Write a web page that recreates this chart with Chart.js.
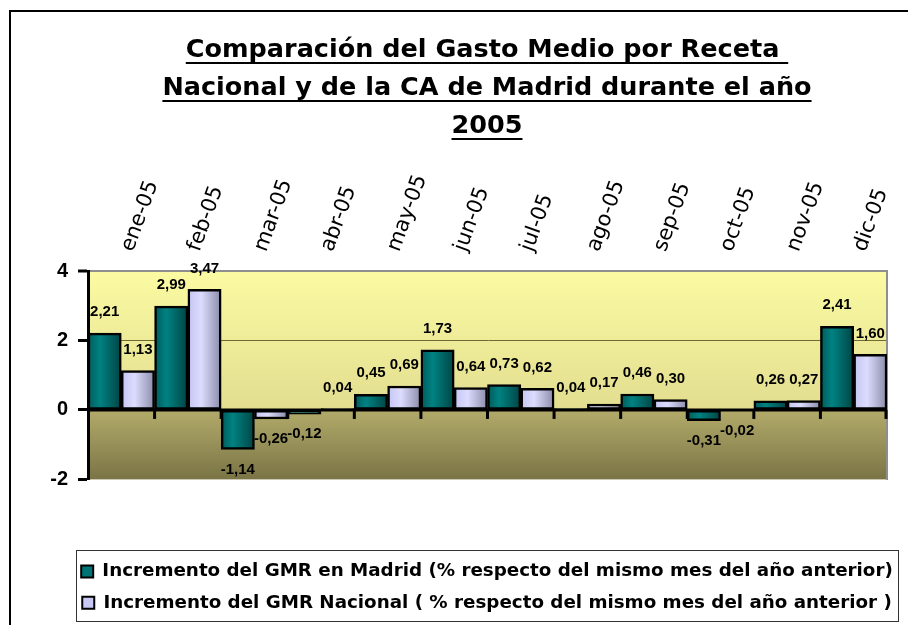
<!DOCTYPE html>
<html><head><meta charset="utf-8">
<script src="https://cdn.jsdelivr.net/npm/chart.js@4/dist/chart.umd.min.js"></script>
<style>html,body{margin:0;padding:0;background:#fff;overflow:hidden}canvas{display:block}</style>
</head><body>
<canvas id="c" width="908" height="625"></canvas>
<script>
const categories = ['ene-05','feb-05','mar-05','abr-05','may-05','jun-05','jul-05','ago-05','sep-05','oct-05','nov-05','dic-05'];
const madrid = [2.21, 2.99, -1.14, -0.12, 0.45, 1.73, 0.73, 0.04, 0.46, -0.31, 0.26, 2.41];
const nacional = [1.13, 3.47, -0.26, 0.04, 0.69, 0.64, 0.62, 0.17, 0.30, -0.02, 0.27, 1.60];
const yTicks = [-2, 0, 2, 4];
const titleLines = ['Comparación del Gasto Medio por Receta ', 'Nacional y de la CA de Madrid durante el año', '2005'];
const seriesNames = ['Incremento del GMR en Madrid (% respecto del mismo mes del año anterior)', 'Incremento del GMR Nacional ( % respecto del mismo mes del año anterior )'];

const solidColors = ['#007474', '#c8c8f4'];
const gradStops = [
  [[0, '#005a5a'], [0.35, '#008282'], [1, '#004444']],
  [[0, '#c4c4f2'], [0.4, '#dcdcff'], [1, '#8a8aa8']]
];

function barFill(di) {
  return (ctx) => {
    if (ctx.type !== 'data') return solidColors[di];
    const chart = ctx.chart, xs = chart.scales.x;
    if (!xs || !chart.chartArea) return solidColors[di];
    const c = xs.getPixelForValue(ctx.dataIndex);
    const half = xs.width / categories.length / 2;
    const x0 = di === 0 ? c - half : c;
    const g = chart.ctx.createLinearGradient(x0, 0, x0 + half, 0);
    gradStops[di].forEach(([o, col]) => g.addColorStop(o, col));
    return g;
  };
}

const TITLE_FONT = {family: 'DejaVu Sans', size: 25.5, weight: 'bold', lineHeight: '38px'};
const TITLE_PAD = {top: 19, bottom: 14};

const decorPlugin = {
  id: 'decor',
  beforeDraw(chart) {
    const ctx = chart.ctx, a = chart.chartArea, ys = chart.scales.y;
    ctx.save();
    ctx.strokeStyle = '#000'; ctx.lineWidth = 2;
    ctx.beginPath(); ctx.moveTo(10, chart.height + 2); ctx.lineTo(10, 11); ctx.lineTo(chart.width + 2, 11); ctx.stroke();
    const y0 = ys.getPixelForValue(0);
    let g = ctx.createLinearGradient(0, a.top, 0, y0);
    g.addColorStop(0, '#fbfba2'); g.addColorStop(1, '#e2dd90');
    ctx.fillStyle = g; ctx.fillRect(a.left, a.top, a.width, y0 - a.top);
    g = ctx.createLinearGradient(0, y0, 0, a.bottom);
    g.addColorStop(0, '#b3ab6a'); g.addColorStop(1, '#7a7446');
    ctx.fillStyle = g; ctx.fillRect(a.left, y0, a.width, a.bottom - y0);
    ctx.restore();
  },
  afterDatasetsDraw(chart) {
    const ctx = chart.ctx, a = chart.chartArea, ys = chart.scales.y, xs = chart.scales.x;
    const y0 = ys.getPixelForValue(0);
    ctx.save();
    ctx.strokeStyle = '#000'; ctx.lineWidth = 3; ctx.lineCap = 'butt';
    ctx.beginPath(); ctx.moveTo(a.left, y0); ctx.lineTo(a.right, y0); ctx.stroke();
    const n = categories.length;
    for (let i = 1; i <= n; i++) {
      const x = i < n ? (xs.getPixelForValue(i - 1) + xs.getPixelForValue(i)) / 2 : a.right - 1;
      ctx.beginPath(); ctx.moveTo(x, y0); ctx.lineTo(x, y0 + 9); ctx.stroke();
    }
    ctx.fillStyle = '#000';
    ctx.font = 'bold 15px "Liberation Sans", Arial, sans-serif';
    ctx.textAlign = 'center'; ctx.textBaseline = 'middle';
    [madrid, nacional].forEach((arr, di) => {
      chart.getDatasetMeta(di).data.forEach((el, i) => {
        const v = arr[i];
        const t = v.toFixed(2).replace('.', ',');
        const y = v >= 0 ? el.y - 21 : el.y + 20;
        ctx.fillText(t, el.x, y);
      });
    });
    ctx.restore();
  },
  afterDraw(chart) {
    const ctx = chart.ctx;
    ctx.save();
    const tb = chart.titleBlock;
    ctx.font = `bold ${TITLE_FONT.size}px "${TITLE_FONT.family}"`;
    const cx = (tb.left + tb.right) / 2;
    ctx.strokeStyle = '#000'; ctx.lineWidth = 2;
    titleLines.forEach((line, i) => {
      const w = ctx.measureText(line).width;
      const y = tb.top + TITLE_PAD.top + 19 + i * 38 + 13;
      ctx.beginPath(); ctx.moveTo(cx - w / 2, y); ctx.lineTo(cx + w / 2, y); ctx.stroke();
    });
    const hb = chart.legend.legendHitBoxes;
    if (hb && hb.length) {
      const l = Math.min(...hb.map(h => h.left)) - 5;
      const r = Math.max(...hb.map(h => h.left + h.width)) + 5;
      const t = Math.min(...hb.map(h => h.top)) - 12;
      const b = Math.max(...hb.map(h => h.top + h.height)) + 9;
      ctx.strokeStyle = '#333'; ctx.lineWidth = 1;
      ctx.strokeRect(Math.round(l) + 0.5, Math.round(t) + 0.5, Math.round(r - l), Math.round(b - t));
    }
    ctx.restore();
  }
};

new Chart(document.getElementById('c'), {
  type: 'bar',
  data: {
    labels: categories,
    datasets: [
      {label: seriesNames[0], data: madrid, backgroundColor: barFill(0), borderColor: '#000', borderWidth: 2.5, borderSkipped: false, xAxisID: 'x', yAxisID: 'y', categoryPercentage: 1, barPercentage: 1},
      {label: seriesNames[1], data: nacional, backgroundColor: barFill(1), borderColor: '#000', borderWidth: 2.5, borderSkipped: false, xAxisID: 'x', yAxisID: 'y', categoryPercentage: 1, barPercentage: 1}
    ]
  },
  options: {
    responsive: false,
    animation: false,
    layout: {padding: {left: 50, right: -16, top: 12, bottom: 3}},
    scales: {
      x: {
        type: 'category', position: 'top', offset: true,
        grid: {display: false}, border: {display: false},
        ticks: {font: {family: 'DejaVu Sans', size: 21}, color: '#000', minRotation: 70, maxRotation: 70, padding: 8, labelOffset: 30, autoSkip: false},
        afterFit: s => { s.height = 112; }
      },
      xB: {
        type: 'category', position: 'bottom', display: true,
        grid: {display: false}, border: {display: false}, ticks: {display: false},
        afterFit: s => { s.height = 70; }
      },
      y: {
        position: 'left', min: -2, max: 4,
        afterBuildTicks: s => { s.ticks = yTicks.map(v => ({value: v})); },
        ticks: {font: {family: 'Liberation Sans', size: 20, weight: 'bold'}, color: '#000', padding: 10, callback: v => String(v)},
        grid: {
          color: c => c.tick && c.tick.value === 4 ? '#8e8e8e' : (c.tick && c.tick.value === 2 ? '#6e6c34' : 'rgba(0,0,0,0)'),
          lineWidth: c => c.tick && c.tick.value === 4 ? 2 : 1,
          tickColor: '#000', tickWidth: 3, tickLength: 10
        },
        border: {display: true, color: '#000', width: 3},
        afterFit: s => { s.width = 38; }
      },
      yR: {
        type: 'linear', position: 'right', min: -2, max: 4, display: true,
        ticks: {display: false}, grid: {display: false},
        border: {display: true, color: '#8e8e8e', width: 2},
        afterFit: s => { s.width = 37; }
      }
    },
    plugins: {
      title: {display: true, text: titleLines, font: TITLE_FONT, color: '#000', padding: TITLE_PAD},
      legend: {
        position: 'bottom',
        labels: {
          font: {family: 'DejaVu Sans', size: 18.3, weight: 'bold'}, color: '#000',
          boxWidth: 12, boxHeight: 12, padding: 13,
          generateLabels: chart => chart.data.datasets.map((ds, i) => ({
            text: ds.label, fillStyle: solidColors[i], strokeStyle: '#000', lineWidth: 2, hidden: false, datasetIndex: i
          }))
        }
      },
      tooltip: {enabled: false}
    }
  },
  plugins: [decorPlugin]
});
</script>
</body></html>
